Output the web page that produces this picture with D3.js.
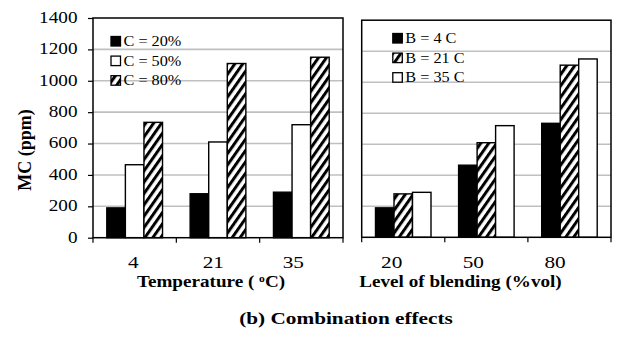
<!DOCTYPE html>
<html>
<head>
<meta charset="utf-8">
<script src="https://cdn.jsdelivr.net/npm/d3@7"></script>
<style>
  html, body { margin: 0; padding: 0; background: #fff; }
  svg { display: block; font-family: "Liberation Serif", "Times New Roman", serif; }
</style>
</head>
<body>
<svg id="chart" width="619" height="337"></svg>
<script>
// ---- data ----
const temperatures = ["4", "21", "35"];          // left panel categories (°C)
const blendLevels = ["20", "50", "80"];          // right panel categories (%vol)
const yTicks = [0, 200, 400, 600, 800, 1000, 1200, 1400];

// MC (ppm) by temperature, one array per blending level
const c20 = [190, 280, 290];
const c50 = [465, 610, 720];
const c80 = [735, 1110, 1150];

// MC (ppm) by blending level, one array per temperature
const b4 = [190, 465, 735];
const b21 = [280, 610, 1110];
const b35 = [290, 720, 1150];

const leftSeries = [
  { name: "C = 20%", values: c20, style: "solid" },
  { name: "C = 50%", values: c50, style: "open" },
  { name: "C = 80%", values: c80, style: "hatch" }
];
const rightSeries = [
  { name: "B = 4 C", values: b4, style: "solid" },
  { name: "B = 21 C", values: b21, style: "hatch" },
  { name: "B = 35 C", values: b35, style: "open" }
];

// ---- drawing ----
const svg = d3.select("#chart");

const defs = svg.append("defs");
const pat = defs.append("pattern")
  .attr("id", "hatch")
  .attr("patternUnits", "userSpaceOnUse")
  .attr("width", 6.5).attr("height", 6.5)
  .attr("patternTransform", "rotate(35)");
pat.append("rect").attr("width", 6.5).attr("height", 6.5).attr("fill", "#fff");
pat.append("rect").attr("x", 0).attr("width", 3).attr("height", 6.5).attr("fill", "#000");

function fillFor(style) {
  return style === "solid" ? "#000" : style === "hatch" ? "url(#hatch)" : "#fff";
}

// text widened horizontally by factor sx
function stretchedText(g, x, y, str, size, sx, weight, anchor) {
  return g.append("text")
    .attr("transform", `translate(${x},${y}) scale(${sx},1)`)
    .attr("text-anchor", anchor || "middle")
    .attr("font-size", size)
    .attr("font-weight", weight || "normal")
    .attr("fill", "#000")
    .text(str);
}

function panel(opts) {
  const { x0, x1, yTop, yBottom, cats, series, showY, legendX, legendY, labelRange } = opts;
  const g = svg.append("g");

  const y = d3.scaleLinear().domain([0, 1400]).range([yBottom, yTop]);
  const xb = d3.scaleBand().domain(cats).range([x0, x1]).padding(0);
  const inner = d3.scaleBand().domain(series.map(s => s.name))
    .range([13.8, xb.bandwidth() - 13.8]).padding(0);
  const xLabel = d3.scalePoint().domain(cats).range(labelRange);

  // gridlines
  g.append("g").selectAll("line")
    .data(yTicks.filter(t => t > 0 && t < 1400))
    .join("line")
    .attr("x1", x0).attr("x2", x1)
    .attr("y1", d => y(d)).attr("y2", d => y(d))
    .attr("stroke", "#c0c0c0").attr("stroke-width", 1.6);

  // bars
  series.forEach(s => {
    g.append("g").selectAll("rect")
      .data(cats.map((c, i) => ({ c, v: s.values[i] })))
      .join("rect")
      .attr("x", d => xb(d.c) + inner(s.name))
      .attr("width", inner.bandwidth())
      .attr("y", d => y(d.v))
      .attr("height", d => y(0) - y(d.v))
      .attr("fill", fillFor(s.style))
      .attr("stroke", "#000")
      .attr("stroke-width", 1.4);
  });

  // frame
  g.append("rect")
    .attr("x", x0).attr("y", yTop)
    .attr("width", x1 - x0).attr("height", yBottom - yTop)
    .attr("fill", "none").attr("stroke", "#000").attr("stroke-width", 1.5);

  // bottom axis: ticks on category boundaries
  const bounds = cats.map(c => xb(c)).concat([x1]);
  g.append("g").selectAll("line")
    .data(bounds).join("line")
    .attr("x1", d => d).attr("x2", d => d)
    .attr("y1", yBottom).attr("y2", yBottom + 5)
    .attr("stroke", "#000").attr("stroke-width", 1.2);

  // category labels
  const xAxis = g.append("g")
    .attr("transform", `translate(0,${yBottom})`)
    .call(d3.axisBottom(xLabel).tickSize(0).tickPadding(0));
  xAxis.select(".domain").remove();
  xAxis.selectAll("text").remove();
  cats.forEach(c => stretchedText(g, xLabel(c), 268, c, 17, 1.25));

  if (showY) {
    const yAxis = g.append("g")
      .attr("transform", `translate(${x0},0)`)
      .call(d3.axisLeft(y).tickValues(yTicks).tickSize(5).tickPadding(6));
    yAxis.select(".domain").remove();
    yAxis.selectAll("line").attr("stroke-width", 1.2);
    yAxis.selectAll("text").remove();
    yTicks.forEach(t => {
      stretchedText(g, x0 - 15.5, y(t) + 4.8, String(t), 17, 1.13, "normal", "end");
    });
  }

  // legend
  series.forEach((s, i) => {
    const ly = legendY + i * 19.6;
    g.append("rect")
      .attr("x", legendX).attr("y", ly)
      .attr("width", 9.5).attr("height", 9.5)
      .attr("fill", fillFor(s.style))
      .attr("stroke", "#000").attr("stroke-width", 1.3);
    stretchedText(g, legendX + 12.5, ly + 9.5, s.name, 14, 1.16, "normal", "start");
  });

  return { g, xb, y };
}

panel({ x0: 93, x1: 343, yTop: 18, yBottom: 237.7, cats: temperatures,
        series: leftSeries, showY: true, legendX: 111, legendY: 36.5,
        labelRange: [133.3, 293.3] });
panel({ x0: 361.7, x1: 611, yTop: 20.2, yBottom: 237.3, cats: blendLevels,
        series: rightSeries, showY: false, legendX: 392.8, legendY: 33.5,
        labelRange: [391.7, 555] });

// axis titles
const tt = svg.append("g");
const tTemp = tt.append("text")
  .attr("transform", "translate(211,287) scale(1.16,1)")
  .attr("text-anchor", "middle")
  .attr("font-size", 16.5).attr("font-weight", "bold");
tTemp.append("tspan").text("Temperature (  ");
tTemp.append("tspan").attr("font-size", 10).attr("dy", -5).text("o");
tTemp.append("tspan").attr("dy", 5).text("C)");

stretchedText(tt, 460.5, 287, "Level of blending (%vol)", 16.5, 1.16, "bold");
stretchedText(tt, 346, 324.3, "(b) Combination effects", 17, 1.25, "bold");

tt.append("text")
  .attr("transform", "translate(31,150) rotate(-90)")
  .attr("text-anchor", "middle")
  .attr("font-size", 18).attr("font-weight", "bold")
  .text("MC (ppm)");
</script>
</body>
</html>
